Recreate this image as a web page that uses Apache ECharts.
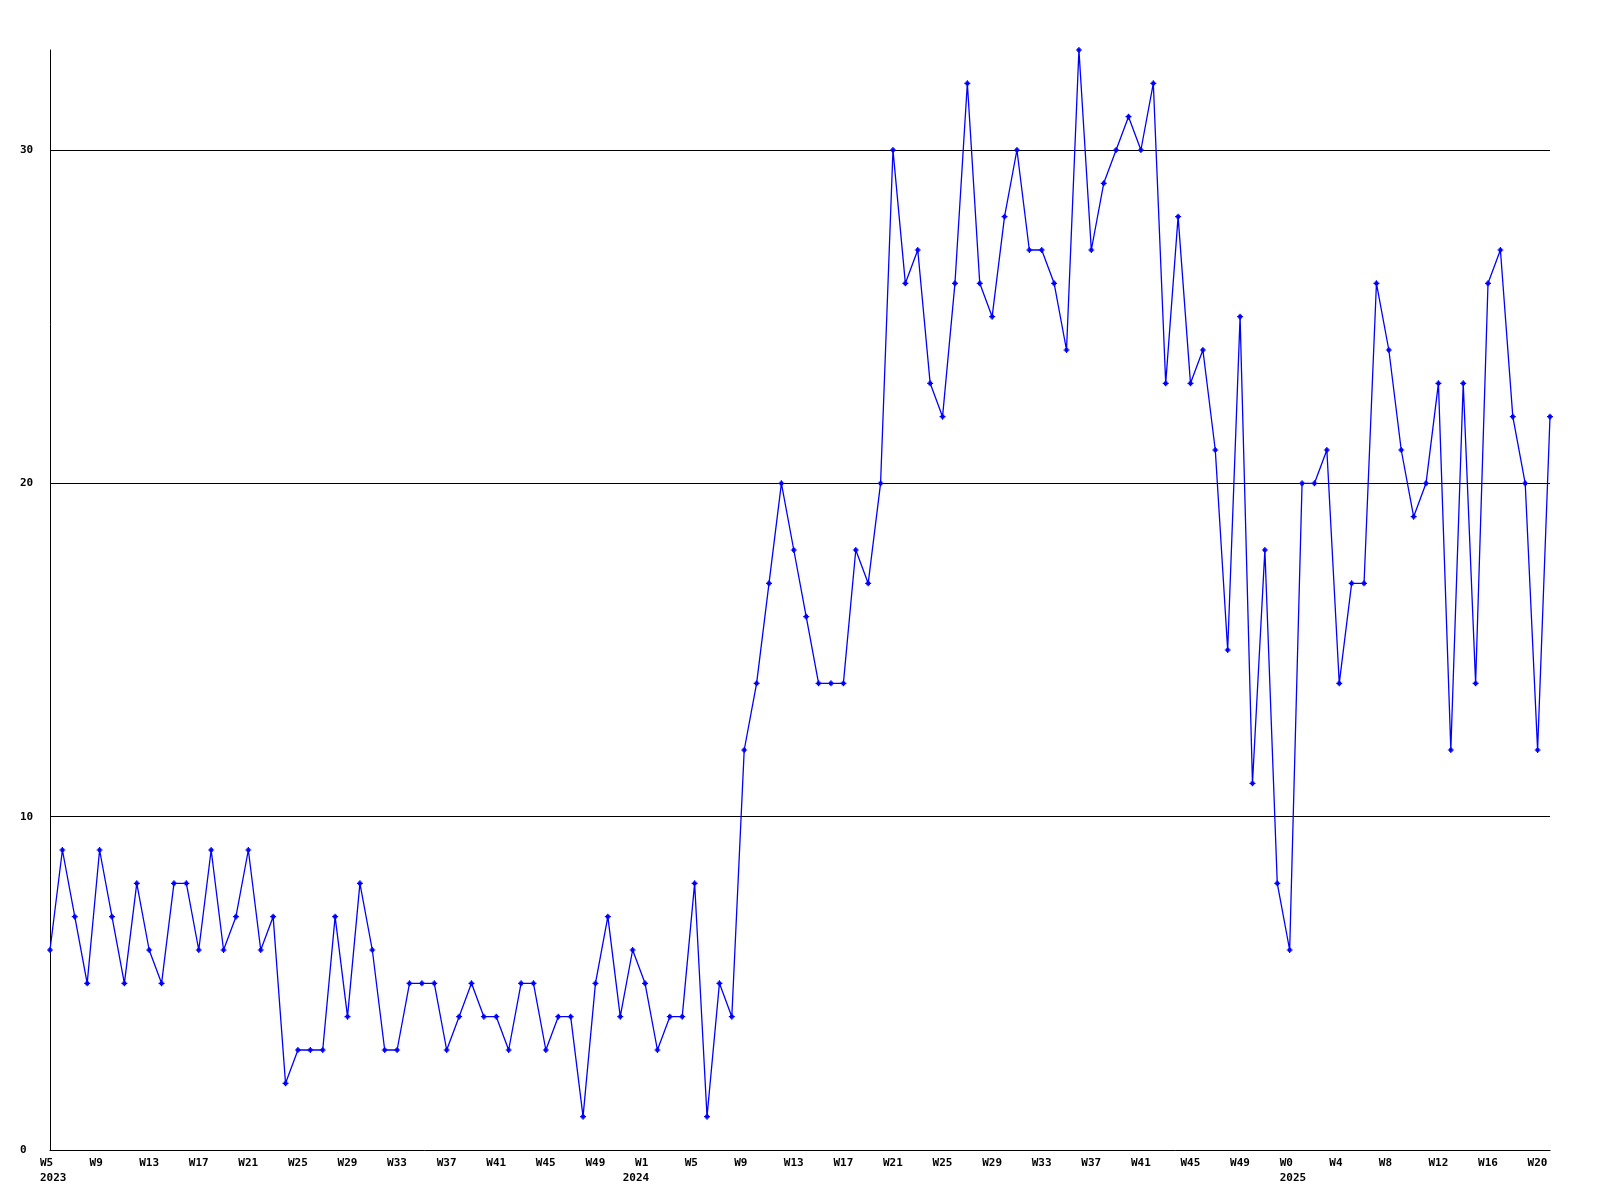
<!DOCTYPE html>
<html><head><meta charset="utf-8">
<script src="https://cdn.jsdelivr.net/npm/echarts@6/dist/echarts.min.js"></script>
<style>html,body{margin:0;padding:0;background:#fff}#c{width:1600px;height:1200px}</style>
</head><body><div id="c"></div>
<script>
// Weekly values (week numbering as on the chart)
const weeks2023 = { first: 5, last: 52 };
const weeks2024 = { first: 1, last: 52 };
const weeks2025 = { first: 0, last: 21 };
const vals2023 = [6,9,7,5,9,7,5,8,6,5, 8,8,6,9,6,7,9,6,7,2, 3,3,3,7,4,8,6,3,3,5, 5,5,3,4,5,4,4,3,5,5, 3,4,4,1,5,7,4,6];
const vals2024 = [5,3,4,4,8,1,5,4,12,14, 17,20,18,16,14,14,14,18,17,20, 30,26,27,23,22,26,32,26,25,28, 30,27,27,26,24,33,27,29,30,31, 30,32,23,28,23,24,21,15,25,11, 18,8];
const vals2025 = [6,20,20,21,14,17,17,26,24,21, 19,20,23,12,23,14,26,27,22,20, 12,22];
const yearLabelIndex = [0, 47, 100];
const yearLabelText = ['2023', '2024', '2025'];
const yTicks = [0, 10, 20, 30];

const categories = [];
[weeks2023, weeks2024, weeks2025].forEach(r => { for (let w = r.first; w <= r.last; w++) categories.push('W' + w); });
const values = vals2023.concat(vals2024, vals2025);

const FONT = '"DejaVu Sans Mono", "Liberation Mono", monospace';
const chart = echarts.init(document.getElementById('c'), null, { renderer: 'canvas' });
chart.setOption({
  animation: false,
  backgroundColor: '#ffffff',
  grid: { left: 50, right: 50, top: 50, bottom: 50 },
  xAxis: {
    type: 'category', data: categories, boundaryGap: false,
    axisLine: { lineStyle: { color: '#000', width: 1 } },
    axisTick: { show: false }, splitLine: { show: false },
    axisLabel: {
      interval: (i) => i % 4 === 0 || yearLabelIndex.includes(i),
      margin: 6,
      formatter: (v, i) => {
        const yi = yearLabelIndex.indexOf(i);
        const top = (i % 4 === 0) ? '{w|' + v + '}' : '{w| }';
        return yi >= 0 ? top + '\n{w|' + yearLabelText[yi] + '}' : top;
      },
      rich: { w: { width: 20, align: 'left', fontFamily: FONT, fontSize: 11, fontWeight: 'bold', lineHeight: 15, color: '#000' } }
    }
  },
  yAxis: {
    type: 'value', min: 0, max: 33, interval: 10,
    axisLine: { show: true, lineStyle: { color: '#000', width: 1 } },
    axisTick: { show: false },
    splitLine: { show: true, showMinLine: false, showMaxLine: false, lineStyle: { color: '#000', width: 1 } },
    axisLabel: {
      align: 'left', margin: 30, showMaxLabel: false,
      formatter: v => yTicks.includes(v) ? String(v) : '',
      fontFamily: FONT, fontSize: 11, fontWeight: 'bold', color: '#000'
    }
  },
  series: [{
    type: 'line', data: values,
    symbol: 'path://M2,0 L3,0 L3,1 L4,1 L4,2 L5,2 L5,3 L4,3 L4,4 L3,4 L3,5 L2,5 L2,4 L1,4 L1,3 L0,3 L0,2 L1,2 L1,1 L2,1 Z',
    symbolSize: 6, showSymbol: true,
    lineStyle: { color: '#0000ff', width: 1.3 }, itemStyle: { color: '#0000ff' },
    emphasis: { disabled: true }
  }]
});
</script></body></html>
